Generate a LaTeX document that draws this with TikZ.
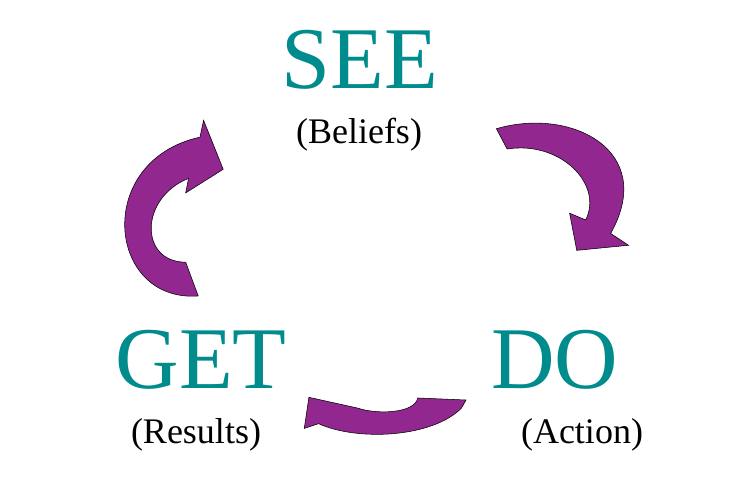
\documentclass[tikz,border=0pt]{standalone}
\usepackage{fontspec}
\setmainfont{Liberation Serif}
\usepackage{xcolor}
\usepackage{tikz}
\usetikzlibrary{positioning}
\definecolor{seeteal}{RGB}{0,140,140}
\definecolor{cyclepurple}{RGB}{146,39,143}

\begin{document}
\begin{tikzpicture}[
    x=0.75pt, y=-0.75pt,
    word/.style={anchor=base, text=seeteal, font=\fontsize{66}{66}\selectfont, inner sep=0pt},
    note/.style={anchor=base, font=\fontsize{27}{27}\selectfont, inner sep=0pt},
    turn/.style={fill=cyclepurple, draw=black, line width=0.4pt}
]
\useasboundingbox (0,0) rectangle (740,487);
\node[word] (see) at (360,88) {SEE};
\node[note] (beliefs) at (359,143) {(Beliefs)};
\node[word] (get) at (201,388) {GET};
\node[note] (results) at (196,443) {(Results)};
\node[word] (do) at (555,388) {DO};
\node[note] (action) at (582,443) {(Action)};

\begin{scope}[shift={(100,100)}, xscale=1/2.8, yscale=1/2.96]
% see -> do
\path[turn] (1110,85) .. controls (1320,20) and (1560,150) .. (1430,395) -- (1480,430) -- (1335,445) -- (1315,335) -- (1360,355) .. controls (1410,250) and (1290,120) .. (1140,145) -- cycle;
% do -> get
\path[turn] (1025,888) -- (890,882) .. controls (880,930) and (770,930) .. (722,912) -- (585,880) -- (572,972) -- (612,958) .. controls (720,1010) and (930,1000) .. (1012,912) -- cycle;
% get -> see
\path[turn] (275,580) .. controls (20,600) and (-20,180) .. (280,110) -- (290,60) -- (345,205) -- (240,275) -- (248,232) .. controls (110,290) and (110,480) .. (240,480) -- cycle;
\end{scope}
\end{tikzpicture}
\end{document}
